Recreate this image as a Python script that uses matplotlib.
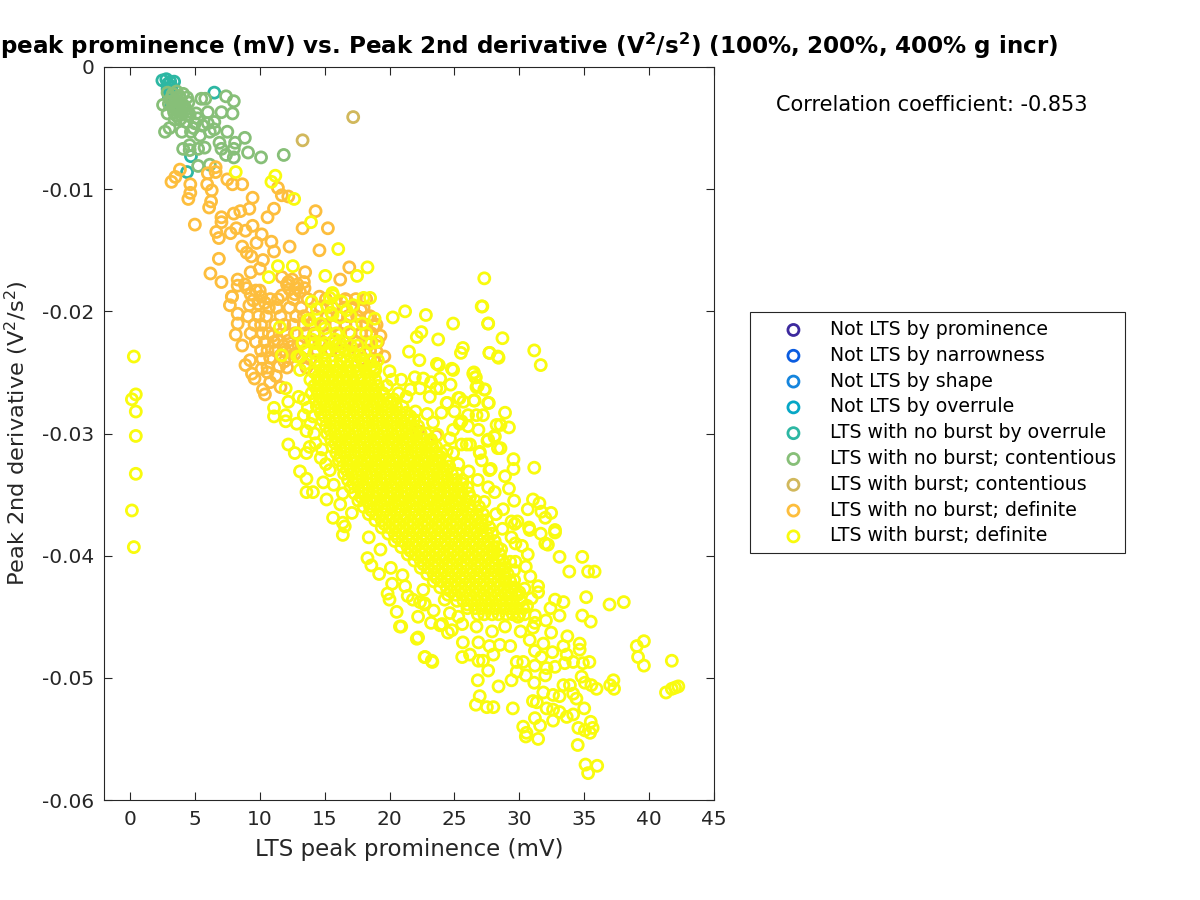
import numpy as np
import matplotlib
matplotlib.use("Agg")
import matplotlib.pyplot as plt

plt.rcParams['font.family'] = 'DejaVu Sans'
plt.rcParams['mathtext.default'] = 'regular'

labels = ['Not LTS by prominence', 'Not LTS by narrowness', 'Not LTS by shape',
          'Not LTS by overrule', 'LTS with no burst by overrule',
          'LTS with no burst; contentious', 'LTS with burst; contentious',
          'LTS with no burst; definite', 'LTS with burst; definite']
colors = ['#3D2A9E', '#0A5CE0', '#1585DD', '#06A7C6', '#2DB7A3',
          '#87BF78', '#D1B85C', '#FDBE3D', '#F9FB0E']

# (prominence in mV, 2nd derivative in V^2/s^2)
overrule_pts = [(2.5,-.0011),(2.8,-.0010),(3.1,-.0012),(3.4,-.0012),(2.9,-.0014),(3.2,-.0016),
                (2.9,-.0018),(3.1,-.0021),(3.0,-.0025),(6.5,-.0021),(4.4,-.0086),(4.7,-.0073),(3.2,-.0030)]

contentious_pts = [(5.5,-.0026),(7.4,-.0024),(8.0,-.0028),(5.8,-.0026),(7.05,-.0037),(7.9,-.0038),(6.0,-.0037),
    (2.55,-.0031),(7.5,-.0053),(8.85,-.0058),(2.7,-.0053),(3.05,-.0050),(4.0,-.0053),(4.7,-.0053),(5.4,-.0056),
    (6.5,-.0045),(6.15,-.0053),(6.5,-.0051),(6.9,-.0062),(8.1,-.0062),(7.05,-.0067),(8.0,-.0067),(9.1,-.0070),
    (7.4,-.0072),(8.0,-.0074),(10.1,-.0074),(11.85,-.0072),(4.1,-.0067),(4.6,-.0064),(5.75,-.0066),(5.25,-.0067),
    (4.6,-.0068),(5.25,-.0081),(6.15,-.0080),(3.85,-.0043),(4.35,-.0045),(5.0,-.0046),(6.0,-.0046),(5.1,-.0038),
    (4.6,-.0039),(3.45,-.0043),(2.9,-.0038),(2.9,-.0021),(3.2,-.0025),(3.5,-.0028),(3.8,-.0024),(4.1,-.0022),
    (4.4,-.0025),(3.0,-.0030),(3.3,-.0033),(3.6,-.0031),(3.9,-.0029),(4.2,-.0032),(4.5,-.0029),(3.4,-.0037),
    (3.7,-.0035),(4.0,-.0037),(4.3,-.0035),(3.6,-.0040),(4.5,-.0040),(5.2,-.0042),(5.6,-.0048),(4.9,-.0050),
    (3.3,-.0022),(3.6,-.0020),(3.9,-.0026),(3.2,-.0028),(3.5,-.0034),(3.8,-.0032),(4.1,-.0034),(3.9,-.0039)]

burst_contentious_pts = [(17.2,-.0041),(13.3,-.0060)]

no_burst_def_pts = [(3.85,-.0084),(3.5,-.0090),(3.2,-.0094),(4.65,-.0096),(4.65,-.0103),(4.5,-.0108),(5.95,-.0096),
    (6.3,-.0101),(6.25,-.0110),(6.1,-.0115),(5.0,-.0129),(6.0,-.0087),(6.6,-.0082),(6.6,-.0086),(7.5,-.0092),
    (7.9,-.0096),(8.65,-.0096),(9.45,-.0107),(9.2,-.0116),(8.0,-.0120),(8.5,-.0118),(7.05,-.0123),(7.05,-.0127),
    (6.65,-.0135),(6.85,-.0140),(7.75,-.0136),(8.2,-.0132),(8.9,-.0134),(9.45,-.0130),(10.6,-.0123),(11.1,-.0116),
    (11.4,-.0099),(11.7,-.0105),(12.2,-.0106),(14.3,-.0118),(13.3,-.0132),(15.25,-.0132),(12.3,-.0147),(14.6,-.0150),
    (6.85,-.0157),(6.2,-.0169),(7.05,-.0176),(8.3,-.0174),(8.3,-.0179),(8.85,-.0178),(9.3,-.0168),(8.65,-.0147),
    (9.0,-.0152),(9.35,-.0155),(9.75,-.0144),(10.15,-.0137),(10.9,-.0143),(11.1,-.0151),(10.25,-.0158),(10.0,-.0165),
    (13.5,-.0168),(16.9,-.0164),(16.2,-.0174),(12.2,-.0176),(12.85,-.0181),(13.45,-.0181),(10.0,-.0183),(7.85,-.0188),
    (14.6,-.0188),(11.7,-.0187),(16.7,-.0191),(7.87,-.0188),(7.7,-.0195),(8.3,-.0202),(8.3,-.0210),(8.15,-.0219),
    (8.65,-.0228),(9.25,-.0240),(9.4,-.0251),(10.15,-.0247),(11.25,-.0253),(10.25,-.0264),(10.4,-.0268),(8.9,-.0244),
    (9.6,-.0255),(10.8,-.0258),(10.6,-.0250),(11.6,-.0262),(19.6,-.0237),(19.3,-.0220),(18.4,-.0226),(19.0,-.0233),
    (18.3,-.0205),(17.8,-.0199),(18.8,-.0212),(22.2,-.0298),(23.6,-.0302),
    (9.0,-.0181),(9.3,-.0186),(9.7,-.0183),(10.1,-.0188),(9.5,-.0191),(9.9,-.0194),(9.2,-.0195),(10.4,-.0193),
    (11.7,-.0172),(12.1,-.0178),(12.5,-.0174),(12.9,-.0178),(12.3,-.0182),(12.7,-.0186),(13.1,-.0184),(13.4,-.0176),
    (11.0,-.0220),(11.4,-.0224),(11.8,-.0228),(12.2,-.0224),(11.2,-.0232),(11.6,-.0236),(12.0,-.0233),(12.4,-.0229),
    (12.7,-.0235),(11.9,-.0241),(12.3,-.0238),(11.5,-.0245),(10.8,-.0238),(13.0,-.0228),(12.1,-.0246),(13.2,-.0238)]

# orange clump, row by row
no_burst_core_y = [-.0190,-.0197,-.0204,-.0211,-.0218,-.0225,-.0232,-.0239,-.0246]
no_burst_core_x = [[10.8,11.4,12.6,13.7,15.1,16.6,17.4,18.2],
    [10.7,11.3,12.3,13.2,14.7,15.6,16.5,17.2,18.0],
    [9.1,9.9,10.5,11.6,12.8,13.4,14.3,15.2,16.0,16.8,17.5,18.5],
    [9.6,10.1,11.2,11.9,12.6,13.4,14.0,15.0,15.8,16.6,17.4,18.2,19.0],
    [9.3,10.2,10.7,12.1,12.7,13.5,14.2,15.3,16.2,17.0,17.8,18.6],
    [9.7,10.4,11.1,13.3,13.9,14.6,15.6,16.5,17.4,18.2,19.1],
    [10.1,10.6,13.6,14.4,15.5,16.6,17.6,18.5],
    [10.2,13.9,17.8,18.8],
    [10.6,13.6]]

burst_def_pts = [(8.15,-.0086),(11.2,-.0089),(10.9,-.0094),(12.65,-.0108),(13.95,-.0127),(16.05,-.0149),(11.4,-.0163),
    (12.55,-.0163),(10.7,-.0172),(15.05,-.0171),(17.5,-.0171),(18.3,-.0164),(15.6,-.0185),(18.0,-.0189),(18.5,-.0189),
    (15.65,-.0187),(21.2,-.0200),(20.25,-.0205),(22.8,-.0203),(27.15,-.0196),(24.9,-.0210),(27.6,-.0210),(23.75,-.0223),
    (22.45,-.0217),(22.1,-.0221),(25.65,-.0230),(25.5,-.0234),(27.7,-.0234),(28.35,-.0237),(21.5,-.0233),(23.65,-.0243),
    (22.3,-.0240),(24.9,-.0248),(26.5,-.0250),(26.65,-.0254),(27.35,-.0264),(26.7,-.0262),(24.7,-.0260),(23.9,-.0255),
    (22.6,-.0255),(21.95,-.0254),(22.35,-.0263),(23.6,-.0263),(23.1,-.0270),(24.45,-.0275),(25.4,-.0271),(26.55,-.0273),
    (27.6,-.0275),(25.0,-.0282),(27.2,-.0285),(23.35,-.0291),(26.85,-.0297),(28.25,-.0293),(25.4,-.0292),(24.65,-.0304),
    (27.6,-.0305),(28.1,-.0303),(25.95,-.0309),(28.35,-.0312),(24.9,-.0316),(26.95,-.0316),(27.7,-.0330),(27.1,-.0322),
    (11.1,-.0279),(11.1,-.0286),(12.0,-.0285),(12.0,-.0290),(12.2,-.0274),(12.0,-.0263),(12.85,-.0292),(12.2,-.0309),
    (12.7,-.0316),(13.6,-.0316),(13.1,-.0331),(13.6,-.0337),(13.6,-.0348),(14.1,-.0348),(15.15,-.0354),(15.65,-.0369),
    (16.4,-.0373),(13.85,-.0311),(11.55,-.0213),(11.7,-.0236),(12.85,-.0218),(14.4,-.0198),(15.6,-.0203),(13.85,-.0207),
    (15.0,-.0214),(16.7,-.0199),(17.2,-.0195),(16.9,-.0217),(16.15,-.0225),(14.25,-.0226),(18.85,-.0206),(13.1,-.0237),
    (13.1,-.0248),(18.3,-.0402),(19.85,-.0431),(20.0,-.0436),(20.55,-.0446),(20.8,-.0458),(22.2,-.0467),(22.7,-.0483),
    (23.25,-.0486),(16.55,-.0376),(16.4,-.0383),(18.6,-.0408),(21.0,-.0416),(21.8,-.0436),(22.7,-.0439),(23.9,-.0457),
    (24.25,-.0436),(29.65,-.0374),(30.8,-.0379),(31.65,-.0382),(32.75,-.0381),(32.0,-.0390),(32.2,-.0391),(33.1,-.0401),
    (34.85,-.0401),(33.85,-.0413),(35.3,-.0413),(35.8,-.0413),(30.65,-.0399),(29.7,-.0390),(29.7,-.0405),(30.5,-.0409),
    (30.85,-.0417),(31.45,-.0425),(31.45,-.0430),(30.95,-.0435),(32.75,-.0436),(33.4,-.0438),(35.15,-.0434),(36.95,-.0440),
    (38.05,-.0438),(32.4,-.0443),(33.1,-.0449),(34.85,-.0449),(35.5,-.0454),(32.05,-.0453),(31.2,-.0449),(31.2,-.0455),
    (31.05,-.0459),(32.45,-.0463),(33.7,-.0466),(30.8,-.0469),(34.65,-.0472),(34.65,-.0477),(33.4,-.0474),(31.85,-.0472),
    (32.55,-.0479),(31.2,-.0478),(31.7,-.0483),(33.65,-.0481),(35.4,-.0487),(34.9,-.0488),(34.15,-.0487),(33.5,-.0488),
    (32.75,-.0491),(32.1,-.0492),(31.2,-.0490),(30.3,-.0487),(29.8,-.0487),(29.3,-.0474),(28.5,-.0473),(27.7,-.0474),
    (26.85,-.0471),(25.65,-.0471),(25.6,-.0483),(26.2,-.0481),(26.85,-.0486),(27.2,-.0486),(28.0,-.0481),(27.6,-.0494),
    (26.8,-.0502),(28.4,-.0507),(29.4,-.0502),(29.8,-.0495),(30.5,-.0498),(31.15,-.0504),(32.0,-.0498),(26.95,-.0515),
    (26.65,-.0522),(27.5,-.0524),(28.0,-.0524),(29.5,-.0525),(31.05,-.0519),(31.35,-.0520),(31.85,-.0512),(32.6,-.0514),
    (33.1,-.0515),(33.4,-.0506),(33.9,-.0506),(34.15,-.0513),(34.8,-.0499),(35.05,-.0504),(35.55,-.0506),(35.95,-.0509),
    (37.0,-.0506),(37.25,-.0502),(37.3,-.0509),(34.4,-.0517),(35.0,-.0525),(32.1,-.0525),(32.6,-.0526),(33.1,-.0528),
    (33.65,-.0532),(34.15,-.0530),(32.6,-.0535),(31.2,-.0533),(30.3,-.0540),(30.55,-.0545),(30.5,-.0548),(31.45,-.0550),
    (31.6,-.0539),(34.55,-.0541),(35.5,-.0536),(35.65,-.0541),(35.45,-.0545),(35.05,-.0543),(34.5,-.0555),(35.1,-.0571),
    (36.0,-.0572),(35.3,-.0578),(39.6,-.0470),(39.05,-.0474),(39.15,-.0483),(39.6,-.0490),(41.75,-.0486),(41.3,-.0512),
    (41.75,-.0509),(42.25,-.0507),(42.0,-.0508),(22.35,-.0438),(22.7,-.0440),(24.05,-.0456),(22.1,-.0468),(22.75,-.0483),
    (23.3,-.0487),(20.9,-.0458),(24.65,-.0447),(27.3,-.0173),(27.1,-.0196),(27.6,-.0210),(28.7,-.0222),(31.15,-.0232),
    (31.65,-.0244),(27.7,-.0234),(28.4,-.0238),(28.9,-.0283),(29.2,-.0295),(28.55,-.0293),(28.1,-.0302),(27.55,-.0306),
    (28.55,-.0312),(29.55,-.0321),(29.55,-.0329),(28.9,-.0335),(31.15,-.0328),(27.8,-.0329),(31.05,-.0354),(30.65,-.0362),
    (31.55,-.0357),(31.7,-.0364),(32.45,-.0365),(32.0,-.0369),(28.75,-.0362),(29.4,-.0372),(29.85,-.0372),(28.1,-.0348),
    (32.75,-.0379),(30.75,-.0377),(0.3,-.0237),(0.45,-.0268),(0.15,-.0272),(0.45,-.0282),(0.45,-.0302),(0.45,-.0333),
    (0.15,-.0363),(0.3,-.0393),(29.2,-.0345),(29.6,-.0355),(28.7,-.0378),(29.4,-.0385),(30.2,-.0392),(29.6,-.0420),
    (30.4,-.0427),(30.6,-.0441),(29.9,-.0450),(30.1,-.0462),(28.9,-.0458),(27.9,-.0462),(26.7,-.0458),(25.6,-.0456),
    (24.8,-.0461),(18.4,-.0385),(19.3,-.0395),(20.1,-.0410),(21.2,-.0425),(22.6,-.0428),(23.4,-.0445),(14.9,-.0340),
    (15.4,-.0330),(14.7,-.0320),(14.2,-.0300),(13.4,-.0285),(13.0,-.0270),(16.2,-.0358),(17.1,-.0365),
    (23.8,-.0244),(24.8,-.0247),(26.45,-.0251),(26.6,-.0254),(26.8,-.0261),(27.3,-.0264),(23.2,-.0258),(23.9,-.0263),
    (21.6,-.0264),(24.4,-.0275),(25.3,-.0271),(25.7,-.0274),(26.5,-.0273),(27.65,-.0275),(24.0,-.0283),(26.05,-.0285),
    (26.7,-.0285),(25.55,-.0290),(26.05,-.0294),(24.9,-.0297),(25.55,-.0309),(26.2,-.0309),(26.95,-.0315),
    (14.0,-.0192),(15.2,-.0196),(16.3,-.0192),(17.0,-.0204),(17.9,-.0210),(18.2,-.0218),(19.0,-.0225),(14.7,-.0210),
    (15.9,-.0218),(14.3,-.0234),(15.3,-.0231),(16.6,-.0232),(17.7,-.0236),(13.5,-.0243),(15.0,-.0240),(16.3,-.0240),
    (18.0,-.0243),(19.1,-.0240),(20.0,-.0249),(20.9,-.0256),(21.3,-.0270),(18.9,-.0248),(19.8,-.0261),(20.7,-.0267),
    (22.0,-.0282),(22.9,-.0284),(23.7,-.0301),(24.4,-.0314),(25.3,-.0325),(26.1,-.0331),(26.8,-.0338),(27.6,-.0344),
    (27.3,-.0356),(28.2,-.0366),(28.6,-.0395),(29.3,-.0405),(29.6,-.0412),(30.0,-.0430),
    (15.4,-.0189),(13.7,-.0207),(15.5,-.0201),(15.0,-.0226),(16.2,-.0205),(17.55,-.0228),(18.6,-.0226),(18.9,-.0246),
    (20.2,-.0256),(15.8,-.0223),(14.0,-.0223),(12.9,-.0237),(13.5,-.0232),(16.3,-.0229),(14.2,-.0219),(13.3,-.0226),
    (13.4,-.0272),(13.7,-.0279),(13.9,-.0292),(14.1,-.0286),(13.6,-.0298),(14.3,-.0308),(14.8,-.0313),(15.1,-.0325),
    (15.7,-.0342),(16.4,-.0349),(19.2,-.0415),(20.2,-.0423),(21.4,-.0433),(22.2,-.0450),(23.2,-.0455),(24.5,-.0463),
    (25.3,-.0450)]

# solid yellow body, row by row
core_y = [-.0228,-.0234,-.0240,-.0245,-.0250,-.0256,-.0261,-.0267,-.0272,-.0278,-.0283,-.0289,-.0294,-.0300,-.0305,-.0311,-.0316,
          -.0322,-.0327,-.0333,-.0338,-.0344,-.0349,-.0355,-.0360,-.0366,-.0371,-.0377,-.0382,-.0388,-.0393,
          -.0399,-.0404,-.0410,-.0415,-.0421,-.0426,-.0432,-.0437,-.0443,-.0448]
core_x = [[14.8,15.9,17.0],
    [14.2,15.1,16.1,17.2,18.1],
    [14.4,15.0,15.6,16.2,16.7,17.3,17.9,18.5],
    [14.6,15.1,15.7,16.2,16.8,17.4,18.0,18.6],
    [14.2,14.8,15.3,15.9,16.4,17.0,17.6,18.2,18.8],
    [13.9,14.5,15.0,15.6,16.1,16.7,17.2,17.8,18.4,18.9],
    [14.2,14.7,15.3,15.8,16.4,16.9,17.5,18.0,18.6,19.1],
    [14.0,14.5,15.1,15.6,16.2,16.7,17.3,17.8,18.4,18.9,19.5],
    [14.3,14.8,15.4,15.9,16.5,17.0,17.6,18.1,18.7,19.2,19.8,20.3],
    [14.4,15.0,15.5,16.1,16.6,17.2,17.7,18.3,18.8,19.4,19.9,20.5,21.0],
    [14.7,15.3,15.8,16.4,16.9,17.5,18.0,18.6,19.1,19.7,20.2,20.8,21.3],
    [14.8,15.4,15.9,16.5,17.0,17.6,18.1,18.7,19.2,19.8,20.3,20.9,21.4,21.9],
    [15.1,15.7,16.2,16.8,17.3,17.9,18.4,19.0,19.5,20.1,20.6,21.2,21.7,22.2],
    [15.2,15.8,16.3,16.9,17.4,18.0,18.5,19.1,19.6,20.2,20.7,21.3,21.8,22.4,22.8],
    [15.5,16.0,16.6,17.1,17.7,18.2,18.8,19.3,19.9,20.4,21.0,21.5,22.1,22.6,23.2],
    [15.6,16.2,16.7,17.3,17.8,18.4,18.9,19.5,20.0,20.6,21.1,21.7,22.2,22.8,23.3,23.6],
    [15.9,16.5,17.0,17.6,18.1,18.7,19.2,19.8,20.3,20.9,21.4,22.0,22.5,23.1,23.6,24.0],
    [16.1,16.7,17.2,17.8,18.3,18.9,19.4,20.0,20.5,21.1,21.6,22.2,22.7,23.3,23.8,24.4],
    [16.4,16.9,17.5,18.0,18.6,19.1,19.7,20.2,20.8,21.3,21.9,22.4,23.0,23.5,24.1,24.6],
    [16.5,17.1,17.6,18.2,18.7,19.3,19.8,20.4,20.9,21.5,22.0,22.6,23.1,23.7,24.2,24.8,25.2],
    [16.8,17.4,17.9,18.5,19.0,19.6,20.1,20.7,21.2,21.8,22.3,22.9,23.4,24.0,24.5,25.1,25.6],
    [17.0,17.6,18.1,18.7,19.2,19.8,20.3,20.9,21.4,22.0,22.5,23.1,23.6,24.2,24.7,25.3,26.0],
    [17.3,17.9,18.4,19.0,19.5,20.1,20.6,21.2,21.7,22.3,22.8,23.4,23.9,24.5,25.0,25.6,26.1],
    [17.6,18.2,18.7,19.3,19.8,20.4,20.9,21.5,22.0,22.6,23.1,23.7,24.2,24.8,25.3,25.9,26.6],
    [18.0,18.5,19.1,19.6,20.2,20.7,21.3,21.8,22.4,22.9,23.5,24.0,24.6,25.1,25.7,26.2,26.9],
    [18.4,19.0,19.5,20.1,20.6,21.2,21.7,22.3,22.8,23.4,23.9,24.5,25.0,25.6,26.1,26.7,27.2],
    [18.9,19.4,20.0,20.5,21.1,21.6,22.2,22.7,23.3,23.8,24.4,24.9,25.5,26.0,26.6,27.1,27.5],
    [19.4,20.0,20.5,21.1,21.6,22.2,22.7,23.3,23.8,24.4,24.9,25.5,26.0,26.6,27.1,27.7],
    [19.9,20.4,21.0,21.5,22.1,22.6,23.2,23.7,24.3,24.8,25.4,25.9,26.5,27.0,27.5,27.9],
    [20.4,21.0,21.5,22.1,22.6,23.2,23.7,24.3,24.8,25.4,25.9,26.5,27.0,27.6,28.1],
    [20.9,21.4,22.0,22.5,23.1,23.6,24.2,24.7,25.3,25.8,26.4,26.9,27.5,28.0,28.3],
    [21.4,22.0,22.5,23.1,23.6,24.2,24.7,25.3,25.8,26.4,26.9,27.5,28.0,28.5],
    [21.9,22.4,23.0,23.5,24.1,24.6,25.2,25.7,26.3,26.8,27.4,27.9,28.4,28.7],
    [22.4,23.0,23.5,24.1,24.6,25.2,25.7,26.3,26.8,27.4,27.9,28.5,28.9],
    [22.9,23.4,24.0,24.5,25.1,25.6,26.2,26.7,27.3,27.8,28.4,28.8,29.1],
    [23.4,24.0,24.5,25.1,25.6,26.2,26.7,27.3,27.8,28.4,28.9,29.3],
    [23.9,24.4,25.0,25.5,26.1,26.6,27.2,27.7,28.3,28.8,29.3,29.6],
    [24.5,25.1,25.6,26.2,26.7,27.3,27.8,28.4,28.9,29.4,29.9],
    [25.2,25.7,26.3,26.8,27.4,27.9,28.5,29.0,29.5,30.1],
    [26.0,26.6,27.1,27.7,28.2,28.8,29.3,29.8,30.3],
    [26.8,27.3,27.9,28.4,29.0,29.5,30.0,30.4]]

# extra rings between the rows above, closes the gaps in the body
core2_y = [-.0253,-.0264,-.0275,-.0286,-.0297,-.0308,-.0319,-.0330,-.0341,-.0352,-.0363,-.0374,
           -.0385,-.0396,-.0407,-.0418,-.0429,-.0440]
core2_x = [[14.5,15.6,16.7,17.8],
    [14.4,15.5,16.6,17.7,18.8],
    [14.6,15.7,16.8,17.9,19.0,20.1],
    [15.0,16.1,17.2,18.3,19.4,20.5,21.6],
    [15.4,16.5,17.6,18.7,19.8,20.9,22.0],
    [15.8,16.9,18.0,19.1,20.2,21.3,22.4,23.2],
    [16.2,17.3,18.4,19.5,20.6,21.7,22.8,23.9],
    [16.7,17.8,18.9,20.0,21.1,22.2,23.3,24.4],
    [17.2,18.3,19.4,20.5,21.6,22.7,23.8,24.9,25.6],
    [17.8,18.9,20.0,21.1,22.2,23.3,24.4,25.5,26.2],
    [18.6,19.7,20.8,21.9,23.0,24.1,25.2,26.3],
    [19.6,20.7,21.8,22.9,24.0,25.1,26.2,27.1],
    [20.6,21.7,22.8,23.9,25.0,26.1,27.2],
    [21.6,22.7,23.8,24.9,26.0,27.1,28.0],
    [22.6,23.7,24.8,25.9,27.0,28.1],
    [23.6,24.7,25.8,26.9,28.0,28.9],
    [24.7,25.8,26.9,28.0,29.1],
    [26.0,27.1,28.2,29.3]]

xtick_vals = [0, 5, 10, 15, 20, 25, 30, 35, 40, 45]
ytick_vals = [0, -0.01, -0.02, -0.03, -0.04, -0.05, -0.06]
ytick_labels = ['0', '-0.01', '-0.02', '-0.03', '-0.04', '-0.05', '-0.06']


def rows_to_xy(xs, ys):
    out_x = []
    out_y = []
    for row, y in zip(xs, ys):
        out_x += row
        out_y += [y] * len(row)
    return out_x, out_y


def pts_to_xy(pts):
    return [p[0] for p in pts], [p[1] for p in pts]


fig = plt.figure(figsize=(12, 9), dpi=100)
ax = fig.add_axes([104 / 1200, 1 - 800 / 900, 610 / 1200, 733 / 900])

ox, oy = rows_to_xy(no_burst_core_x, no_burst_core_y)
nx, ny = pts_to_xy(no_burst_def_pts)
cx, cy = rows_to_xy(core_x, core_y)
c2x, c2y = rows_to_xy(core2_x, core2_y)
bx, by = pts_to_xy(burst_def_pts)

series = [([], []), ([], []), ([], []), ([], []),
          pts_to_xy(overrule_pts), pts_to_xy(contentious_pts), pts_to_xy(burst_contentious_pts),
          (nx + ox, ny + oy), (bx + cx + c2x, by + cy + c2y)]

handles = []
for (xs, ys), col, lab in zip(series, colors, labels):
    h = ax.scatter(xs, ys, s=63, facecolors='none', edgecolors=col, linewidths=2.0, label=lab)
    handles.append(h)

ax.set_xlim(-2, 45)
ax.set_ylim(-0.06, 0)
ax.set_xticks(xtick_vals)
ax.set_yticks(ytick_vals)
ax.set_yticklabels(ytick_labels)
ax.tick_params(direction='in', top=True, right=True, length=6, width=0.8, labelsize=14.5,
               colors='#262626', pad=7)
for s in ax.spines.values():
    s.set_color('#262626')
    s.set_linewidth(0.8)

ax.set_xlabel('LTS peak prominence (mV)', fontsize=16.5, color='#262626', labelpad=7)
ax.set_ylabel('Peak 2nd derivative (V$^2$/s$^2$)', fontsize=16.2, color='#262626', labelpad=8)

fig.text(0, 1 - 46 / 900, r'peak prominence (mV) vs. Peak 2nd derivative (V$\mathbf{^2}$/s$\mathbf{^2}$) (100%, 200%, 400% g incr)',
         fontsize=16.6, fontweight='bold', ha='left', va='center', color='black')
fig.text(776 / 1200, 1 - 105 / 900, 'Correlation coefficient: -0.853', fontsize=15,
         ha='left', va='center', color='black')

leg = ax.legend(handles=handles, loc='upper left', bbox_to_anchor=(750 / 1200, 1 - 312 / 900),
                bbox_transform=fig.transFigure, fontsize=13.6, frameon=True, fancybox=False,
                edgecolor='#262626', framealpha=1, borderaxespad=0, borderpad=0.42, labelspacing=0.36,
                handlelength=3.76, handletextpad=0.08, scatterpoints=1)
leg.get_frame().set_linewidth(0.8)

fig.savefig('out.png', dpi=100)
